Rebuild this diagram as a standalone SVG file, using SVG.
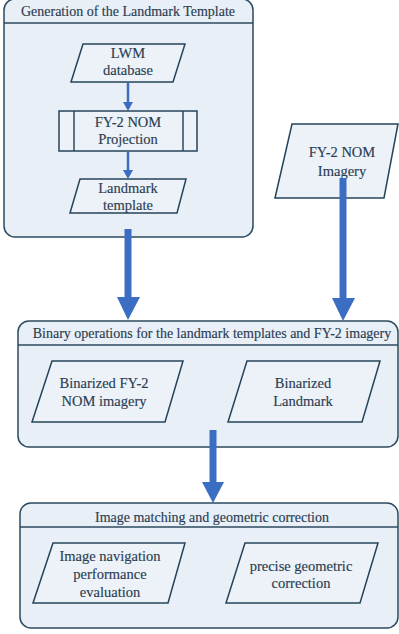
<svg xmlns="http://www.w3.org/2000/svg" width="399" height="634" viewBox="0 0 399 634">
<style>
.box{fill:#e9eff6;stroke:#2b4a5e;stroke-width:1.5}
.node{fill:#edf2f8;stroke:#24445a;stroke-width:1.5}
.div{stroke:#2b4a5e;stroke-width:1.5}
.t{font-family:"Liberation Serif","Times New Roman",serif;font-size:14.5px;fill:#2a3d52;text-anchor:middle;stroke:#2a3d52;stroke-width:0.15}
.h{font-size:14px}
.ar{fill:#3b6ec2}
.sh{stroke:#3b6ec2;fill:none}
</style>
<rect width="399" height="634" fill="#ffffff"/>
<g id="container-generation">
<rect class="box" x="4" y="-1" width="249" height="238" rx="11"/>
<line class="div" x1="4" y1="23" x2="253" y2="23"/>
<text class="t h" x="128" y="16">Generation of the Landmark Template</text>
</g>
<g id="container-binary">
<rect class="box" x="18" y="321" width="380" height="126" rx="11"/>
<line class="div" x1="18" y1="345" x2="398" y2="345"/>
<text class="t h" x="212" y="338">Binary operations for the landmark templates and FY-2 imagery</text>
</g>
<g id="container-matching">
<rect class="box" x="20" y="503" width="378" height="125" rx="11"/>
<line class="div" x1="20" y1="527" x2="398" y2="527"/>
<text class="t h" x="212" y="522">Image matching and geometric correction</text>
</g>
<g id="node-lwm">
<polygon class="node" points="83,44 185,44 173,82 71,82"/>
<text class="t" x="128" y="58">LWM</text>
<text class="t" x="128" y="75">database</text>
</g>
<g id="node-projection">
<rect class="node" x="59" y="111" width="138" height="40"/>
<line class="div" x1="74" y1="111" x2="74" y2="151"/>
<line class="div" x1="183" y1="111" x2="183" y2="151"/>
<text class="t" x="128" y="127">FY-2 NOM</text>
<text class="t" x="128" y="144">Projection</text>
</g>
<g id="node-landmark">
<polygon class="node" points="80,179 186,179 177,213 70,213"/>
<text class="t" x="128" y="193">Landmark</text>
<text class="t" x="128" y="210">template</text>
</g>
<g id="node-imagery">
<polygon class="node" points="292,124 398,124 384,198 275,198"/>
<text class="t" x="342" y="157">FY-2 NOM</text>
<text class="t" x="342" y="176">Imagery</text>
</g>
<g id="node-bin-imagery">
<polygon class="node" points="52,361 183,361 165,422 32,422"/>
<text class="t" x="104" y="388">Binarized FY-2</text>
<text class="t" x="104" y="406">NOM imagery</text>
</g>
<g id="node-bin-landmark">
<polygon class="node" points="247,361 380,361 362,422 228,422"/>
<text class="t" x="303" y="388">Binarized</text>
<text class="t" x="303" y="406">Landmark</text>
</g>
<g id="node-navigation">
<polygon class="node" points="53,543 185,543 168,603 33,603"/>
<text class="t" x="110" y="561">Image navigation</text>
<text class="t" x="110" y="579">performance</text>
<text class="t" x="110" y="597">evaluation</text>
</g>
<g id="node-correction">
<polygon class="node" points="245,543 378,543 360,603 226,603"/>
<text class="t" x="301" y="571">precise geometric</text>
<text class="t" x="301" y="588">correction</text>
</g>
<g id="connectors">
<line class="sh" x1="128" y1="83" x2="128" y2="103" stroke-width="2.5"/>
<polygon class="ar" points="123,102 133,102 128,111"/>
<line class="sh" x1="128" y1="152" x2="128" y2="171" stroke-width="2.5"/>
<polygon class="ar" points="123,170 133,170 128,179"/>
<line class="sh" x1="128" y1="229" x2="128" y2="298" stroke-width="7"/>
<polygon class="ar" points="117,297 140,297 128,320"/>
<line class="sh" x1="343" y1="178" x2="343" y2="299" stroke-width="7"/>
<polygon class="ar" points="332,298 355,298 343,321"/>
<line class="sh" x1="213" y1="430" x2="213" y2="483" stroke-width="7"/>
<polygon class="ar" points="202,482 224,482 213,503"/>
</g>
</svg>
